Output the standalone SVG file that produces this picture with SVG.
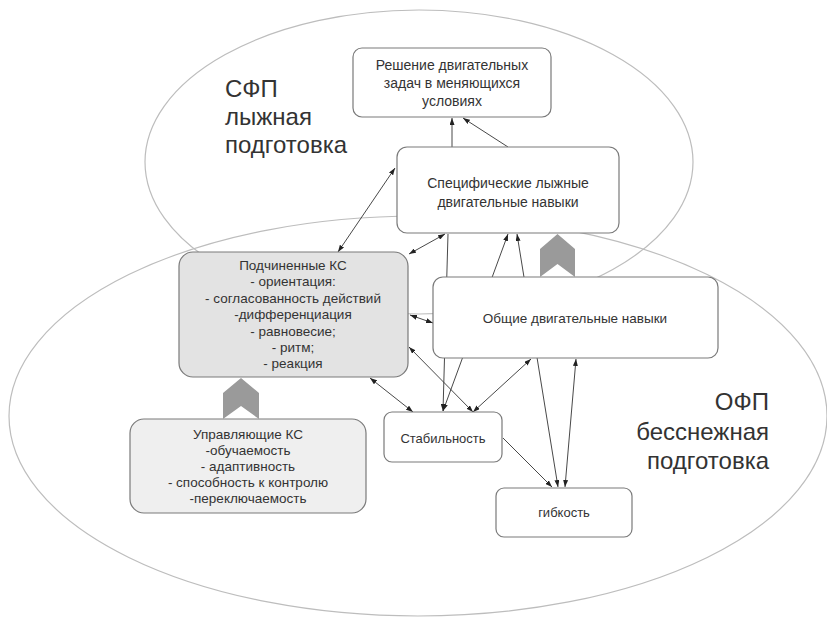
<svg xmlns="http://www.w3.org/2000/svg" width="827" height="617" viewBox="0 0 827 617">
<style>
.zone{fill:none;stroke:#bdbdbd;stroke-width:1.2}
.box{fill:#fff;stroke:#7a7a7a;stroke-width:1.2}
.t{font-family:"Liberation Sans",Arial,sans-serif;font-size:13.5px;fill:#333;text-anchor:middle}
.big{font-family:"Liberation Sans",Arial,sans-serif;font-size:24px;fill:#333}
.c{fill:none;stroke:#333;stroke-width:0.9}
.chev{fill:#9a9a9a}
</style>
<defs>
<marker id="ah" markerUnits="userSpaceOnUse" markerWidth="7" markerHeight="5" refX="7" refY="2.5" orient="auto-start-reverse">
<path d="M0,0 L7,2.5 L0,5 z" fill="#222"/>
</marker>
</defs>
<g id="zones">
<ellipse class="zone" cx="419" cy="162" rx="274" ry="152"/>
<ellipse class="zone" cx="418" cy="416" rx="409" ry="200"/>
<text class="big" x="225" y="97">СФП</text>
<text class="big" x="225" y="125">лыжная</text>
<text class="big" x="225" y="153">подготовка</text>
<text class="big" x="769" y="410" text-anchor="end">ОФП</text>
<text class="big" x="769" y="440" text-anchor="end">бесснежная</text>
<text class="big" x="769" y="469" text-anchor="end">подготовка</text>
</g>
<g id="connectors">
<path class="c" d="M452,147 L452,118" marker-end="url(#ah)"/>
<path class="c" d="M508,147 L463,118" marker-end="url(#ah)"/>
<path class="c" d="M395,168 L338,252" marker-start="url(#ah)" marker-end="url(#ah)"/>
<path class="c" d="M409,254 L445,234" marker-start="url(#ah)" marker-end="url(#ah)"/>
<path class="c" d="M448,234 L443,411" marker-end="url(#ah)"/>
<path class="c" d="M443,411 L508,234" marker-start="url(#ah)" marker-end="url(#ah)"/>
<path class="c" d="M517,234 L558,487" marker-start="url(#ah)" marker-end="url(#ah)"/>
<path class="c" d="M576,359 L565,487" marker-start="url(#ah)" marker-end="url(#ah)"/>
<path class="c" d="M503,438 L552,487" marker-end="url(#ah)"/>
<path class="c" d="M370,378 L413,412" marker-start="url(#ah)" marker-end="url(#ah)"/>
<path class="c" d="M409,347 L473,412" marker-start="url(#ah)" marker-end="url(#ah)"/>
<path class="c" d="M473,412 L531,359" marker-start="url(#ah)" marker-end="url(#ah)"/>
<path class="c" d="M410,315 L433,323" marker-start="url(#ah)" marker-end="url(#ah)"/>
</g>
<g id="n-reshenie">
<rect class="box" x="353" y="48" width="198" height="69" rx="9"/>
<text class="t" style="font-size:14px" x="452" y="70">Решение двигательных</text>
<text class="t" style="font-size:14px" x="452" y="88">задач в меняющихся</text>
<text class="t" style="font-size:14px" x="452" y="106">условиях</text>
</g>
<g id="n-specific">
<rect class="box" x="397" y="147" width="222" height="86" rx="10"/>
<text class="t" style="font-size:14px" x="508" y="188">Специфические лыжные</text>
<text class="t" style="font-size:14px" x="508" y="207">двигательные навыки</text>
</g>
<g id="n-podch">
<rect class="box" x="179" y="252" width="229" height="125" rx="14" style="fill:#e3e3e3"/>
<text class="t" x="293" y="270">Подчиненные КС</text>
<text class="t" x="293" y="286">- ориентация:</text>
<text class="t" x="293" y="303">- согласованность действий</text>
<text class="t" x="293" y="319">-дифференциация</text>
<text class="t" x="293" y="336">- равновесие;</text>
<text class="t" x="293" y="352">- ритм;</text>
<text class="t" x="293" y="368">- реакция</text>
</g>
<g id="n-obshie">
<rect class="box" x="433" y="277" width="285" height="81" rx="10"/>
<text class="t" x="575" y="323">Общие двигательные навыки</text>
</g>
<g id="n-upr">
<rect class="box" x="130" y="419" width="236" height="94" rx="14" style="fill:#efefef"/>
<text class="t" x="248" y="439">Управляющие КС</text>
<text class="t" x="248" y="455">-обучаемость</text>
<text class="t" x="248" y="471">- адаптивность</text>
<text class="t" x="248" y="487">- способность к контролю</text>
<text class="t" x="248" y="503">-переключаемость</text>
</g>
<g id="n-stab">
<rect class="box" x="384" y="412" width="118" height="50" rx="8"/>
<text class="t" style="font-size:13px" x="443" y="443">Стабильность</text>
</g>
<g id="n-gib">
<rect class="box" x="496" y="488" width="136" height="49" rx="8"/>
<text class="t" style="font-size:13px" x="564" y="517">гибкость</text>
</g>
<g id="chevrons">
<path class="chev" d="M540,277 L540,249 L557.5,234 L575,249 L575,277 L557.5,264 z"/>
<path class="chev" d="M223,419 L223,393 L241,378 L259,393 L259,419 L241,406 z"/>
</g>
</svg>
